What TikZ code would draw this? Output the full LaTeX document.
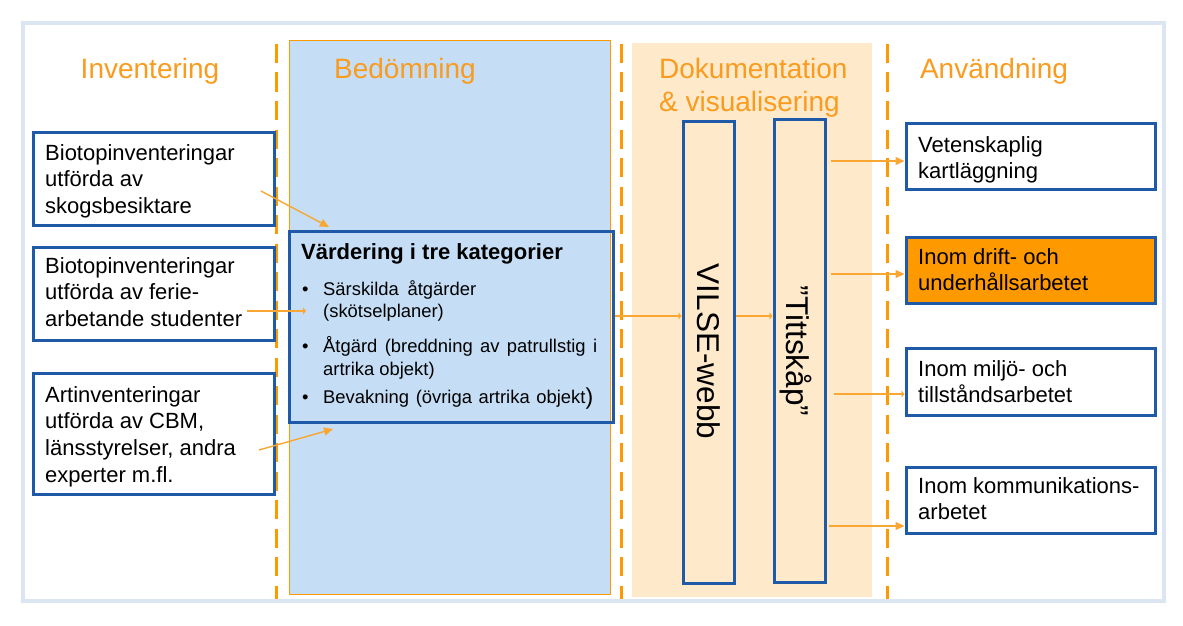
\documentclass[tikz,border=0pt]{standalone}
\usepackage{fontspec}
\setmainfont{Liberation Sans}
\usetikzlibrary{arrows.meta}
\definecolor{frame}{RGB}{220,230,242}
\definecolor{orng}{RGB}{255,153,0}
\definecolor{orngtxt}{RGB}{250,155,30}
\definecolor{arrc}{RGB}{249,166,50}
\definecolor{bbord}{RGB}{30,90,168}
\definecolor{lblue}{RGB}{197,222,246}
\definecolor{peach}{RGB}{254,234,203}
\newcommand{\fs}[1]{\fontsize{#1}{#1}\selectfont}
\newcommand{\boxlines}[1]{\parbox[t]{240pt}{\raggedright\fontsize{22}{26.7}\selectfont #1}}
\tikzset{
  divider/.style={orng, line width=3pt, dash pattern=on 19pt off 9.5pt},
  title/.style={text=orngtxt, font=\fs{28}, inner sep=0pt, anchor=base},
  bbox/.style={draw=bbord, line width=3pt, rectangle, inner sep=0pt},
  boxtxt/.style={inner sep=0pt, anchor=base west},
  bultxt/.style={inner sep=0pt, anchor=base west, font=\fs{18.4}},
  arr/.style={draw=arrc, line width=1.4pt, -{Triangle[length=9pt,width=8pt]}},
  arrs/.style={draw=arrc, line width=1.4pt, -{Triangle[length=3pt,width=7pt]}},
  vtxt/.style={inner sep=0pt, rotate=-90, anchor=base, font=\fs{31.5}},
}
\begin{document}
\begin{tikzpicture}[x=1pt,y=-1pt]
\path[use as bounding box] (0,0) rectangle (1183,626);
% outer frame
\draw[frame, line width=4pt] (23,23) rectangle (1164,601);
% panels
\path[fill=lblue, draw=orng, line width=0.8pt] (289,40) rectangle (610,594);
\path[fill=peach] (632,43) rectangle (872,597);
% dividers
\draw[divider] (276,44) -- (276,599);
\draw[divider] (621,44) -- (621,599);
\draw[divider] (887,44) -- (887,599);
% titles
\node[title] (t1) at (150,78) {Inventering};
\node[title] (t2) at (405,78) {Bedömning};
\node[title, anchor=base west] (t3) at (659,78) {Dokumentation};
\node[title, anchor=base west] (t3b) at (659,111) {\& visualisering};
\node[title] (t4) at (994,78) {Användning};
% left boxes
\node[bbox, minimum width=241pt, minimum height=93pt] (b1) at (153.5,178.5) {};
\node[boxtxt] (b1t) at (45,160) {\boxlines{Biotopinventeringar\\utförda av\\skogsbesiktare}};
\node[bbox, minimum width=241pt, minimum height=93pt] (b2) at (153.5,293.5) {};
\node[boxtxt] (b2t) at (45,273) {\boxlines{Biotopinventeringar\\utförda av ferie-\\arbetande studenter}};
\node[bbox, minimum width=241pt, minimum height=121pt] (b3) at (153.5,433.5) {};
\node[boxtxt] (b3t) at (45,402) {\boxlines{Artinventeringar\\utförda av CBM,\\länsstyrelser, andra\\experter m.fl.}};
% Vardering box
\node[bbox, minimum width=324pt, minimum height=191pt] (v) at (451,326.5) {};
\node[boxtxt, font=\bfseries\fs{22}] (vt) at (301,259) {Värdering i tre kategorier};
\node[bultxt] (bu1) at (302,295) {•};
\node[bultxt] (l1) at (323,295) {\makebox[153pt][s]{Särskilda åtgärder}};
\node[bultxt] (l2) at (323,317) {(skötselplaner)};
\node[bultxt] (bu2) at (302,352) {•};
\node[bultxt] (l3) at (323,352) {\makebox[274pt][s]{Åtgärd (breddning av patrullstig i}};
\node[bultxt] (l4) at (323,375) {artrika objekt)};
\node[bultxt] (bu3) at (302,403) {•};
\node[bultxt] (l5) at (323,403) {\makebox[270pt][s]{Bevakning (övriga artrika objekt{\fs{23}\raisebox{-1.5pt}{)}}}};
% vertical boxes
\node[bbox, minimum width=51pt, minimum height=462pt] (vw) at (708.5,352) {};
\node[vtxt] (vwt) at (697,351.5) {VILSE-webb};
\node[bbox, minimum width=51pt, minimum height=463pt] (tk) at (799.5,350.5) {};
\node[vtxt] (tkt) at (786,351) {”Tittskåp”};
% right boxes
\node[bbox, minimum width=249pt, minimum height=66pt] (r1) at (1030.5,156) {};
\node[boxtxt] (r1t) at (918,152) {\boxlines{Vetenskaplig\\kartläggning}};
\node[bbox, fill=orng, minimum width=249pt, minimum height=66pt] (r2) at (1030.5,270) {};
\node[boxtxt] (r2t) at (918,264) {\boxlines{Inom drift- och\\underhållsarbetet}};
\node[bbox, minimum width=249pt, minimum height=67pt] (r3) at (1030.5,381.5) {};
\node[boxtxt] (r3t) at (918,376) {\boxlines{Inom miljö- och\\tillståndsarbetet}};
\node[bbox, minimum width=249pt, minimum height=66pt] (r4) at (1030.5,500) {};
\node[boxtxt] (r4t) at (918,493) {\boxlines{Inom kommunikations-\\arbetet}};
% connectors
\coordinate (a1s) at (261,191);
\coordinate (a1e) at (329,227);
\draw[arr] (a1s) -- (a1e);
\coordinate (a2s) at (247,311);
\coordinate (a2e) at (306,311);
\draw[arrs] (a2s) -- (a2e);
\coordinate (a3s) at (259,450);
\coordinate (a3e) at (333,429);
\draw[arr] (a3s) -- (a3e);
\draw[arrs] (v.east |- 0,316) -- (vw.west |- 0,316);
\draw[arrs] (vw.east |- 0,316) -- (tk.west |- 0,316);
\coordinate (o1) at (831,161);
\coordinate (o2) at (831,274);
\coordinate (o3) at (834,394);
\coordinate (o4) at (829,526);
\draw[arr] (o1) -- (r1.west |- o1);
\draw[arr] (o2) -- (r2.west |- o2);
\draw[arrs] (o3) -- (r3.west |- o3);
\draw[arr] (o4) -- (r4.west |- o4);
\end{tikzpicture}
\end{document}
